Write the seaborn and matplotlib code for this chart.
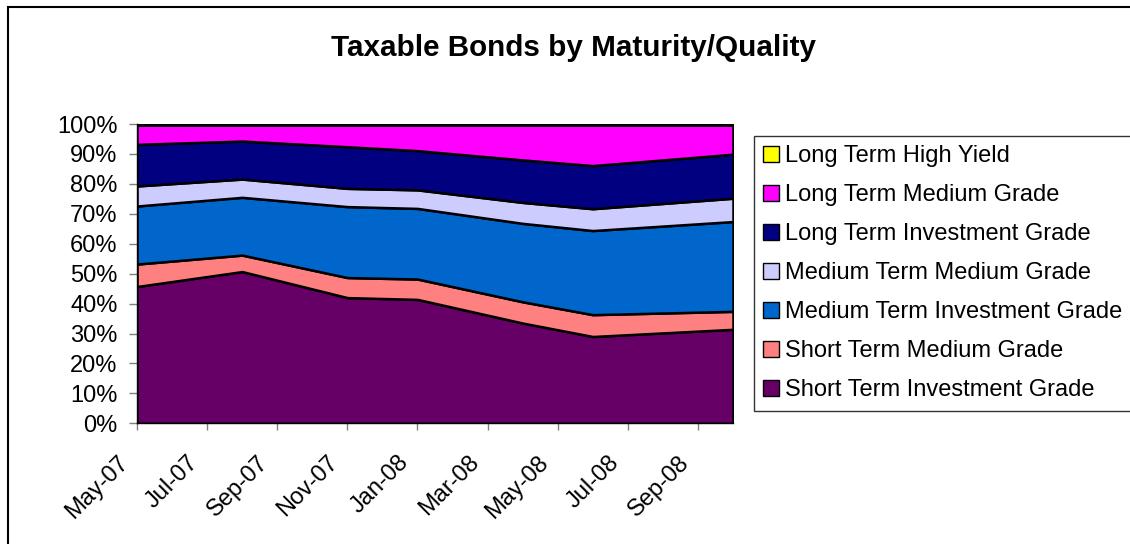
import matplotlib
matplotlib.use("Agg")
import matplotlib.pyplot as plt
import seaborn as sns
import pandas as pd
from matplotlib.patches import Patch, Rectangle
from matplotlib.transforms import ScaledTranslation

# ---- data (percent of portfolio) ----
dates = ["2007-05", "2007-08", "2007-11", "2008-01", "2008-04", "2008-06", "2008-10"]
short_inv = [45.7, 50.7, 42.0, 41.4, 33.5, 29.0, 31.4]
short_med = [7.5, 5.5, 6.7, 6.8, 7.1, 7.3, 6.0]
medium_inv = [19.4, 19.3, 23.7, 23.6, 26.2, 28.1, 30.0]
medium_med = [6.7, 6.1, 6.1, 6.2, 7.0, 7.3, 7.8]
long_inv = [13.9, 12.7, 13.9, 13.1, 14.2, 14.4, 14.7]
long_med = [6.5, 5.4, 7.3, 8.6, 11.7, 13.6, 9.8]
long_hy = [0.3, 0.3, 0.3, 0.3, 0.3, 0.3, 0.3]

series_names = ["Short Term Investment Grade", "Short Term Medium Grade",
                "Medium Term Investment Grade", "Medium Term Medium Grade",
                "Long Term Investment Grade", "Long Term Medium Grade",
                "Long Term High Yield"]
series_colors = ["#660066", "#FF8080", "#0066CC", "#CCCCFF", "#000080", "#FF00FF", "#FFFF00"]
tick_dates = ["2007-05", "2007-07", "2007-09", "2007-11", "2008-01",
              "2008-03", "2008-05", "2008-07", "2008-09"]
axis_end = "2008-10"
title = "Taxable Bonds by Maturity/Quality"

# ---- style ----
sns.set_theme(style="white")
plt.rcParams["font.family"] = ["Liberation Sans", "DejaVu Sans"]
plt.rcParams["text.color"] = "black"
plt.rcParams["xtick.color"] = "black"
plt.rcParams["ytick.color"] = "black"

start = pd.Period(dates[0], "M")
def mi(d):
    return (pd.Period(d, "M") - start).n

x = [mi(d) for d in dates]
ticks = [mi(d) for d in tick_dates]
tick_labels = [pd.Period(d, "M").strftime("%b-%y") for d in tick_dates]

W, H = 1130, 544
FS = 17
fig = plt.figure(figsize=(W / 100, H / 100), dpi=100)
fig.patch.set_facecolor("white")
ax = fig.add_axes([137 / W, 1 - 423.3 / H, (733 - 137) / W, (423.3 - 124) / H])

values = [short_inv, short_med, medium_inv, medium_med, long_inv, long_med, long_hy]
ax.stackplot(x, *values, colors=series_colors, edgecolor="black", linewidth=1.8)

ax.set_xlim(0, mi(axis_end))
ax.set_ylim(0, 100)
ax.set_yticks(range(0, 101, 10))
ax.set_yticklabels([f"{v}%" for v in range(0, 101, 10)], fontsize=FS, color="black")
ax.set_xticks(ticks)
ax.set_xticklabels(tick_labels, fontsize=FS, rotation=45, ha="right",
                   va="baseline", rotation_mode="anchor", color="black")
ax.tick_params(axis="y", direction="out", length=6, width=1, color="#808080",
               pad=8, left=True, labelcolor="black")
ax.tick_params(axis="x", direction="out", length=5, width=1, color="#808080",
               pad=26, bottom=True, labelcolor="black")
shift = ScaledTranslation(-8 / 100, 3 / 100, fig.dpi_scale_trans)
for lbl in ax.get_xticklabels():
    lbl.set_transform(lbl.get_transform() + shift)
for s in ax.spines.values():
    s.set_color("black")
    s.set_linewidth(1)
ax.spines["top"].set_visible(False)
ax.spines["right"].set_visible(False)
ax.grid(False)
ax.set_facecolor("white")

fig.text(573 / W, 1 - 48 / H, title, ha="center", va="center",
         fontsize=21.3, fontweight="bold", color="black")

handles = [Patch(facecolor=c, edgecolor="black", linewidth=1) for c in series_colors]
leg = fig.legend(handles[::-1], series_names[::-1], loc="upper left",
                 bbox_to_anchor=(754 / W, 1 - 136 / H), frameon=True, fancybox=False,
                 edgecolor="black", fontsize=FS, handlelength=0.68, handleheight=0.68,
                 handletextpad=0.22, labelspacing=0.72, borderpad=0.4,
                 borderaxespad=0, labelcolor="black")
leg.get_frame().set_linewidth(1)

fig.patches.append(Rectangle((8 / W, -0.1), 1.2, 1.1 - 7 / H, transform=fig.transFigure,
                             fill=False, edgecolor="black", linewidth=1.5))

fig.savefig("out.png", dpi=100)
